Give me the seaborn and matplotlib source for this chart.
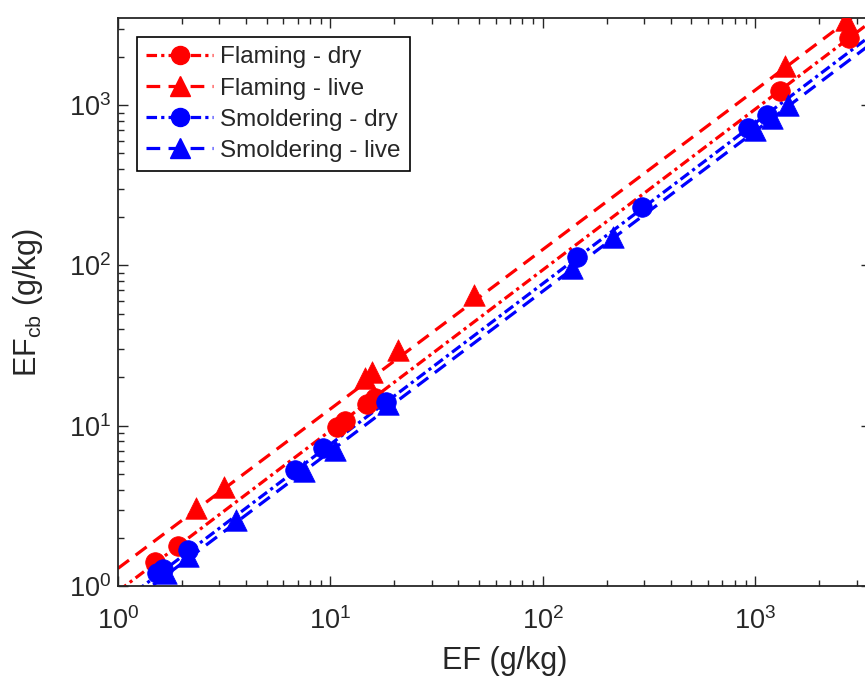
import numpy as np
import pandas as pd
import matplotlib
matplotlib.use("Agg")
import matplotlib.pyplot as plt
from matplotlib.lines import Line2D
import seaborn as sns

# ---- measured emission factors (g/kg) ----
flaming_dry_ef = [1.49, 1.92, 10.7, 11.7, 14.9, 16.2, 1304, 2754]
flaming_dry_efcb = [1.42, 1.78, 9.8, 10.7, 13.7, 14.9, 1225, 2623]

flaming_live_ef = [2.33, 3.15, 14.5, 15.7, 20.8, 47.4, 1377, 2667]
flaming_live_efcb = [3.07, 4.15, 19.9, 21.6, 29.7, 65.4, 1754, 3396]

smold_dry_ef = [1.53, 1.62, 2.14, 6.81, 9.22, 18.2, 144, 293, 925, 1129]
smold_dry_efcb = [1.21, 1.28, 1.68, 5.29, 7.26, 14.1, 113, 230, 717, 867]

smold_live_ef = [1.68, 2.13, 3.59, 7.5, 10.5, 18.6, 137, 214, 995, 1196, 1422]
smold_live_efcb = [1.20, 1.54, 2.58, 5.22, 7.1, 13.7, 96.4, 151, 699, 831, 1000]

# log-log fit coefficients: log10(EFcb) = intercept + slope * log10(EF)
fit_slope = [1.003, 0.995, 1.0026, 0.9994]
fit_intercept = [-0.033, 0.11, -0.118, -0.159]

series_names = ["Flaming - dry", "Flaming - live", "Smoldering - dry", "Smoldering - live"]

axis_limits = [1, 3500]

# ---- styling ----
sns.set_style("ticks")
plt.rcParams["font.family"] = ["Liberation Sans", "DejaVu Sans"]
plt.rcParams["mathtext.fontset"] = "custom"
plt.rcParams["mathtext.rm"] = "Liberation Sans"
plt.rcParams["mathtext.it"] = "Liberation Sans:italic"
plt.rcParams["mathtext.bf"] = "Liberation Sans:bold"
plt.rcParams["mathtext.default"] = "regular"

ink = (0.15, 0.15, 0.15)
colors = ["#ff0000", "#ff0000", "#0000ff", "#0000ff"]
lw = 2.3
dashdot = (0, (3.3, 1.3, 1.0, 1.3))
dashed = (0, (4.3, 2.6))
line_styles = [dashdot, dashed, dashdot, dashed]
markers = ["o", "^", "o", "^"]
marker_area = [200, 240, 200, 240]

xs = [flaming_dry_ef, flaming_live_ef, smold_dry_ef, smold_live_ef]
ys = [flaming_dry_efcb, flaming_live_efcb, smold_dry_efcb, smold_live_efcb]

fig = plt.figure(figsize=(8.65, 6.77), dpi=100)
ax = fig.add_axes([118 / 865, 91 / 677, 753 / 865, 568 / 677])
ax.set_xscale("log")
ax.set_yscale("log")

fit_x = np.array(axis_limits, dtype=float)
for i in range(4):
    fit_y = 10 ** (fit_intercept[i] + fit_slope[i] * np.log10(fit_x))
    sns.lineplot(x=fit_x, y=fit_y, ax=ax, color=colors[i], linewidth=lw,
                 linestyle=line_styles[i], estimator=None, sort=False, zorder=2)

for i in range(4):
    df = pd.DataFrame({"EF": xs[i], "EFcb": ys[i]})
    sns.scatterplot(data=df, x="EF", y="EFcb", ax=ax, marker=markers[i],
                    s=marker_area[i], color=colors[i], edgecolor=colors[i],
                    linewidth=0.5, zorder=3 + i)

ax.set_xlim(axis_limits)
ax.set_ylim(axis_limits)

for sp in ax.spines.values():
    sp.set_visible(True)
    sp.set_color(ink)
    sp.set_linewidth(1.3)

ax.tick_params(which="both", direction="in", top=True, right=True,
               colors=ink, width=1.0)
ax.tick_params(which="major", length=7.2, labelsize=19.5)
ax.tick_params(axis="x", which="major", pad=15)
ax.tick_params(axis="y", which="major", pad=5)
ax.tick_params(which="minor", length=4.0)

ax.set_xlabel("EF (g/kg)", fontsize=22, color=ink)
ax.set_ylabel(r"EF$_{\mathrm{cb}}$ (g/kg)", fontsize=22, color=ink)
ax.xaxis.set_label_coords((505 - 118) / 753, (586 - 646) / 568)
ax.yaxis.set_label_coords((45 - 118) / 753, 0.5)

handles = [
    Line2D([], [], color=colors[i], linestyle=line_styles[i], linewidth=lw,
           marker=markers[i], markersize=13 if markers[i] == "o" else 14,
           markeredgecolor=colors[i], markerfacecolor=colors[i])
    for i in range(4)
]
leg = ax.legend(handles, series_names, loc="upper left",
                bbox_to_anchor=((137 - 118) / 753, (586 - 37) / 568),
                borderaxespad=0, fontsize=17.5, frameon=True, fancybox=False,
                framealpha=1, edgecolor="black", handlelength=2.75,
                handletextpad=0.3, labelspacing=0.38, borderpad=0.38)
leg.get_frame().set_linewidth(1.2)

fig.savefig("out.png", dpi=100)
